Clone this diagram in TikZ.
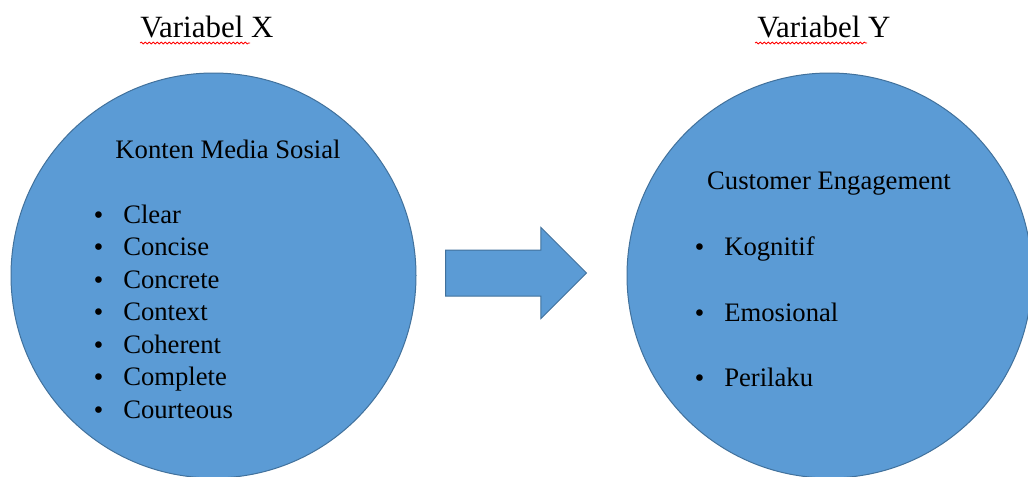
\documentclass[tikz,border=0pt]{standalone}
\usepackage{fontspec}
\setmainfont{Liberation Serif}
\newfontfamily\bulfont{DejaVu Sans}
\usetikzlibrary{positioning, shapes.arrows, decorations.pathmorphing}
\definecolor{circfill}{HTML}{5B9BD5}
\definecolor{circline}{HTML}{41719C}

\begin{document}
\begin{tikzpicture}[
		x=0.75pt, y=-0.75pt,
		varcircle/.style={circle, draw=circline, line width=0.75pt, fill=circfill, minimum size=303.75pt, inner sep=0pt},
		title/.style={anchor=base west, inner sep=0pt, font=\fontsize{23.2}{27}\selectfont},
		head/.style={anchor=base, inner sep=0pt, font=\fontsize{20}{24}\selectfont},
		item/.style={anchor=base west, inner sep=0pt, font=\fontsize{20}{24}\selectfont},
		bul/.style={anchor=base west, inner sep=0pt, font=\bulfont\fontsize{17}{20}\selectfont},
		typo/.style={red, line width=0.6pt, decorate, decoration={snake, amplitude=0.7pt, segment length=3pt}},
		blockarrow/.style={single arrow, draw=circline, fill=circfill, line width=0.75pt, minimum height=105.75pt, inner xsep=0pt, inner ysep=16.875pt, single arrow head extend=16.9pt, single arrow tip angle=90}
		]
		\useasboundingbox[fill=white] (0,0) rectangle (1028,476);

		\node[title] (varx) at (140,37) {Variabel X};
		\node[title] (vary) at (757,37) {Variabel Y};
		\draw[typo] ([yshift=-4.5pt]varx.base west) -- ++(82.5pt,0);
		\draw[typo] ([xshift=-1.5pt, yshift=-4.5pt]vary.base west) -- ++(84pt,0);

		\node[varcircle] (cx) at (213.5,275.5) {};
		\node[varcircle] (cy) at (829.5,275.5) {};
		\node[blockarrow, anchor=tail] (flow) at (445,273) {};

		\node[head] (kms) at (228,158) {Konten Media Sosial};
		\node[item] (clear) at (123,223) {Clear};
		\node[item] (concise) at (123,255.5) {Concise};
		\node[item] (concrete) at (123,288) {Concrete};
		\node[item] (context) at (123,320.5) {Context};
		\node[item] (coherent) at (123,353) {Coherent};
		\node[item] (complete) at (123,385.5) {Complete};
		\node[item] (courteous) at (123,418) {Courteous};

		\node[head] (ce) at (829,189) {Customer Engagement};
		\node[item] (kog) at (724,255) {Kognitif};
		\node[item] (emo) at (724,321) {Emosional};
		\node[item] (per) at (724,386) {Perilaku};

		% bullets in front of every item
		\foreach \n in {clear,concise,concrete,context,coherent,complete,courteous,kog,emo,per}
			\node[bul] (b-\n) at ([xshift=-23.5pt]\n.base west) {\textbullet};
	\end{tikzpicture}
\end{document}
